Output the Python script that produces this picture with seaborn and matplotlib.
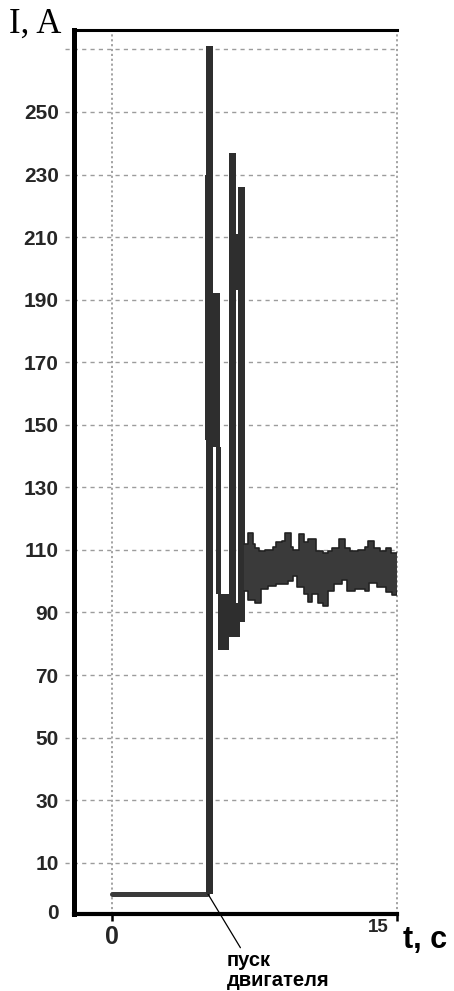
import numpy as np
import matplotlib
matplotlib.use("Agg")
import matplotlib.pyplot as plt
import matplotlib.transforms as mtransforms
import seaborn as sns

# ---------------- data ----------------
# idle current before the motor start
idle_t = [0.0, 5.0]
idle_i = [0.0, 0.0]

# start-up transient: dense oscillation envelopes (time from/to, current low/high)
strip_t0 = [4.95, 4.87, 5.29, 5.47, 5.60, 6.18, 6.18, 6.63, 6.18]
strip_t1 = [5.29, 4.95, 5.71, 5.74, 6.18, 6.74, 6.53, 7.00, 7.00]
strip_lo = [0, 145, 143, 96, 78, 82, 92, 87, 193]
strip_hi = [271, 230, 192, 143, 96, 93, 237, 226, 211]

# steady running: envelope of the current band
band_t = [6.95, 7.15, 7.42, 7.55, 7.75, 7.85, 8.05, 8.2, 8.45, 8.65, 8.95, 9.1,
          9.25, 9.4, 9.55, 9.75, 9.85, 10.1, 10.3, 10.55, 10.75, 10.85, 11.1,
          11.35, 11.6, 11.7, 11.95, 12.1, 12.25, 12.35, 12.55, 12.8, 12.95,
          13.3, 13.45, 13.5, 13.8, 13.95, 14.1, 14.4, 14.7, 14.75, 15.0]
band_upper = [112, 115.5, 112, 110.5, 109.5, 109.5, 110, 110, 111, 112.5, 113,
              115.5, 115.5, 111, 110, 110, 115, 112.5, 113.5, 113.5, 109.5,
              109.5, 109, 109.5, 110.5, 110.5, 113.5, 113.5, 110.5, 110.5,
              109.5, 109.5, 110, 111, 113, 113, 110.5, 110.5, 109.5, 110.5,
              109, 109, 109]
band_lower = [97, 94, 94, 93, 93, 97.5, 97.5, 98.5, 98.5, 99, 99, 99, 100, 100,
              101.5, 98, 98, 96, 93.5, 96, 96, 93, 92, 97, 97, 99, 99, 100.5,
              100.5, 97, 97, 97.5, 97.5, 97, 97, 99.5, 99.5, 98, 98, 96.5,
              96.5, 95.5, 97]

ytick_values = [0, 10, 30, 50, 70, 90, 110, 130, 150, 170, 190, 210, 230, 250]
grid_levels = [10, 30, 50, 70, 90, 110, 130, 150, 170, 190, 210, 230, 250, 270]
xtick_values = [0, 15]
xtick_labels = ["0", "15"]
start_label = "пуск\nдвигателя"

# ---------------- figure ----------------
sns.set_theme(style="white")
plt.rcParams['font.family'] = ['Liberation Sans', 'DejaVu Sans']

W, H = 454, 991
fig = plt.figure(figsize=(W / 100, H / 100), dpi=100)
L, R, T, B = 74, 397, 30, 914
ax = fig.add_axes([L / W, 1 - B / H, (R - L) / W, (B - T) / H])
ax.set_xlim(-2.0, 15.0)
ax.set_ylim(-6.4, 276.2)

# grid
ax.hlines(grid_levels, -2.47, 15.0, colors='#9c9c9c', linestyles=(0, (3, 3)),
          lw=1.0, clip_on=False, zorder=1)
for xv in xtick_values:
    ax.axvline(xv, color='#9c9c9c', ls=(0, (1.2, 1.5)), lw=1.3, zorder=1, clip_on=False)

# idle current
sns.lineplot(x=idle_t, y=idle_i, ax=ax, color='#3a3a3a', lw=3.6, zorder=3)

# transient strips
heights = np.array(strip_hi) - np.array(strip_lo)
widths = np.array(strip_t1) - np.array(strip_t0)
ax.bar(strip_t0, heights, width=widths, bottom=strip_lo, align='edge',
       color='#2e2e2e', linewidth=0, zorder=4)

# steady band
ax.fill_between(band_t, band_lower, band_upper, step='post', color='#3a3a3a',
                linewidth=0, zorder=4)
sns.lineplot(x=band_t, y=band_upper, ax=ax, drawstyle='steps-post',
             color='#222222', lw=1.2, zorder=5)
sns.lineplot(x=band_t, y=band_lower, ax=ax, drawstyle='steps-post',
             color='#222222', lw=1.2, zorder=5)

# spines
for s in ['left', 'bottom', 'top']:
    ax.spines[s].set_visible(True)
    ax.spines[s].set_color('black')
ax.spines['left'].set_linewidth(3.6)
ax.spines['bottom'].set_linewidth(3.0)
ax.spines['top'].set_linewidth(2.2)
ax.spines['right'].set_visible(False)

# y ticks
ax.set_yticks(ytick_values)
ax.set_yticklabels([str(v) for v in ytick_values], fontsize=15, fontweight='bold')
ax.tick_params(axis='y', length=0, pad=11)
lab0 = ax.yaxis.get_major_ticks()[0].label1
lab0.set_transform(lab0.get_transform() +
                   mtransforms.ScaledTranslation(0, -18 / 100, fig.dpi_scale_trans))

# x ticks
ax.set_xticks(xtick_values)
ax.set_xticklabels(xtick_labels, fontsize=18, fontweight='bold')
ax.tick_params(axis='x', length=5, width=1.8, color='black', direction='out',
               pad=3, bottom=True)
lab15 = ax.xaxis.get_major_ticks()[1].label1
lab15.set_fontsize(13.5)
lab15.set_ha('right')
lab15.set_transform(lab15.get_transform() +
                    mtransforms.ScaledTranslation(-8 / 100, 6 / 100, fig.dpi_scale_trans))

# axis labels
ax.set_xlabel("t, c", fontsize=22, fontweight='bold', color='black')
ax.xaxis.set_label_coords((425 - L) / (R - L), (B - 940) / (B - T))
ax.xaxis.label.set_va('center')
ax.xaxis.label.set_ha('center')

ax.set_ylabel("I, A", rotation=0, fontsize=25, color='black',
              family=['Liberation Serif', 'DejaVu Serif'])
ax.yaxis.set_label_coords((35 - L) / (R - L), (B - 24) / (B - T))
ax.yaxis.label.set_va('center')
ax.yaxis.label.set_ha('center')

# annotation for motor start
ax.annotate(start_label, xy=(5.05, 0), xycoords='data',
            xytext=(227, H - 951), textcoords='figure pixels',
            ha='left', va='top', fontsize=14.5, fontweight='bold',
            linespacing=1.05, color='black',
            arrowprops=dict(arrowstyle='-', color='black', lw=0.9,
                            relpos=(0.15, 1.0), shrinkA=0, shrinkB=0))

fig.savefig("out.png", dpi=100)
